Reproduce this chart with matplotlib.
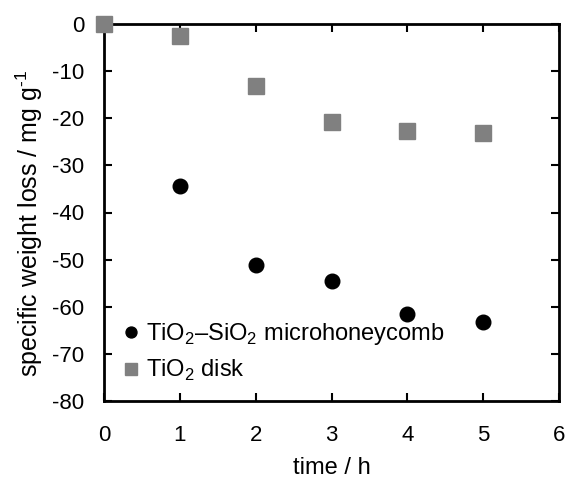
import matplotlib.pyplot as plt

plt.rcParams['font.family'] = ['Liberation Sans', 'DejaVu Sans']
plt.rcParams['mathtext.fontset'] = 'custom'
plt.rcParams['mathtext.rm'] = 'Liberation Sans'
plt.rcParams['axes.unicode_minus'] = False

# specific weight loss (mg/g) vs. time (h)
time_honeycomb = [1, 2, 3, 4, 5]
loss_honeycomb = [-34.3, -51.1, -54.6, -61.6, -63.3]
time_disk = [0, 1, 2, 3, 4, 5]
loss_disk = [0, -2.5, -13.1, -20.7, -22.7, -23.1]

fig = plt.figure(figsize=(5.65, 4.87), dpi=100)
ax = fig.add_axes([104 / 565, 1 - 401 / 487, 455 / 565, 377 / 487])

ax.plot(time_honeycomb, loss_honeycomb, 'o', color='black', markersize=10.5,
        label=r'TiO$_2$–SiO$_2$ microhoneycomb', clip_on=False, zorder=3)
ax.plot(time_disk, loss_disk, 's', color='#808080', markersize=11,
        label=r'TiO$_2$ disk', clip_on=False, zorder=3)

ax.set_xlim(0, 6)
ax.set_ylim(-80, 0)
ax.set_xticks(range(0, 7))
ax.set_yticks(range(-80, 1, 10))
ax.tick_params(direction='in', top=True, right=True, length=6, width=1.5,
               labelsize=16)
ax.tick_params(axis='x', pad=17)
ax.tick_params(axis='y', pad=14)
for s in ax.spines.values():
    s.set_linewidth(2)

ax.set_xlabel('time / h', fontsize=17, labelpad=8)
ax.set_ylabel(r'specific weight loss / mg g$^{\text{-1}}$', fontsize=18)
ax.yaxis.set_label_coords(-0.13, 0.47)

ax.legend(loc='lower left', frameon=False, fontsize=17, handletextpad=0.1,
          handlelength=1.1, borderaxespad=0.2, labelspacing=0.45,
          markerscale=0.75, bbox_to_anchor=(0.0, 0.01))

fig.savefig('out.png', dpi=100)
